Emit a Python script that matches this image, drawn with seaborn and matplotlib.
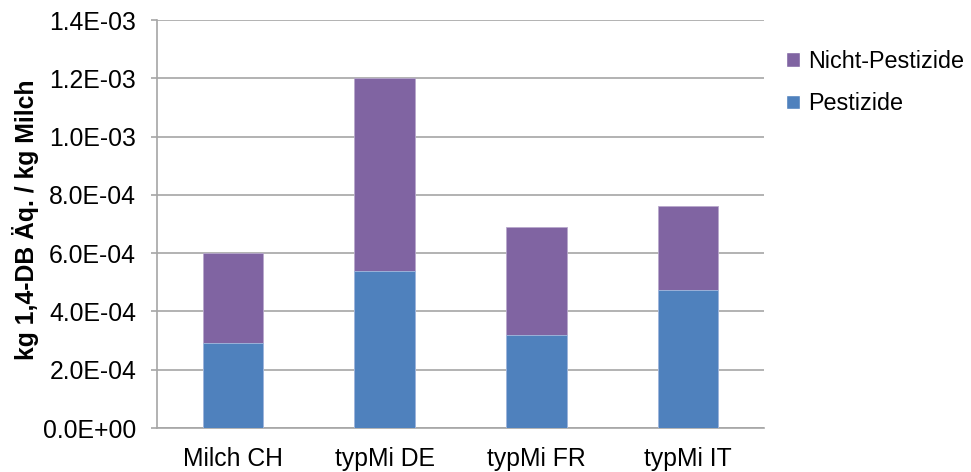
import numpy as np
import pandas as pd
import matplotlib
matplotlib.use("Agg")
import matplotlib.pyplot as plt
import seaborn as sns
from matplotlib.patches import Patch
from matplotlib.ticker import FuncFormatter, FixedLocator

# values
categories = ["Milch CH", "typMi DE", "typMi FR", "typMi IT"]
pestizide = [2.91e-4, 5.38e-4, 3.19e-4, 4.74e-4]
nicht_pestizide = [3.09e-4, 6.62e-4, 3.69e-4, 2.89e-4]

df = pd.DataFrame({"kategorie": categories,
                   "pest": pestizide,
                   "nicht": nicht_pestizide})
df["total"] = df["pest"] + df["nicht"]

sns.set_style("white")
plt.rcParams['font.family'] = ['Liberation Sans', 'DejaVu Sans']
plt.rcParams['text.color'] = 'black'
plt.rcParams['xtick.color'] = 'black'
plt.rcParams['ytick.color'] = 'black'
plt.rcParams['axes.labelcolor'] = 'black'

purple = "#8064A2"
blue = "#4F81BD"
grey = "#A6A6A6"
fs = 17.8

fig = plt.figure(figsize=(9.71, 4.72), dpi=100)
ax = fig.add_axes([157 / 971, 44 / 472, 607 / 971, 408 / 472])

# stacked bars: total first, pestizide on top of it
sns.barplot(data=df, x="kategorie", y="total", color=purple, width=0.4,
            saturation=1, ax=ax, edgecolor="#B8A8CC", linewidth=0.6, zorder=3)
sns.barplot(data=df, x="kategorie", y="pest", color=blue, width=0.4,
            saturation=1, ax=ax, edgecolor="#A4BCE0", linewidth=0.6, zorder=4)

ax.set_ylim(0, 1.4e-3)
ax.set_xlim(-0.5, 3.5)
ax.set_yticks(np.arange(0, 1.41e-3, 2e-4))
ax.yaxis.set_major_formatter(FuncFormatter(lambda v, p: "{:.1E}".format(v)))
ax.yaxis.grid(True, color=grey, linewidth=1.2, zorder=0)
ax.set_axisbelow(True)

ax.xaxis.set_minor_locator(FixedLocator(np.arange(-0.5, 4, 1)))
ax.tick_params(axis="x", which="major", length=0, pad=14, labelsize=fs, labelcolor="black")
ax.tick_params(axis="x", which="minor", length=5, color=grey, width=1.2, direction="out")
ax.tick_params(axis="y", length=4, color=grey, width=1.2, direction="out",
               pad=11, labelsize=fs, left=True, labelcolor="black")

for s in ["top", "right"]:
    ax.spines[s].set_visible(False)
for s in ["left", "bottom"]:
    ax.spines[s].set_color(grey)
    ax.spines[s].set_linewidth(1.2)

ax.set_xlabel("")
ax.set_ylabel("kg 1,4-DB Äq. / kg Milch", fontsize=fs, fontweight="bold", color="black")
ax.yaxis.set_label_coords(-0.195, 0.51)

handles = [Patch(facecolor=purple, label="Nicht-Pestizide"),
           Patch(facecolor=blue, label="Pestizide")]
fig.legend(handles=handles, loc="upper left", bbox_to_anchor=(765 / 971, 1 - 29 / 472),
           frameon=False, fontsize=16.8, handlelength=0.6, handleheight=0.6,
           handletextpad=0.35, labelspacing=0.82)

fig.savefig("out.png", dpi=100)
